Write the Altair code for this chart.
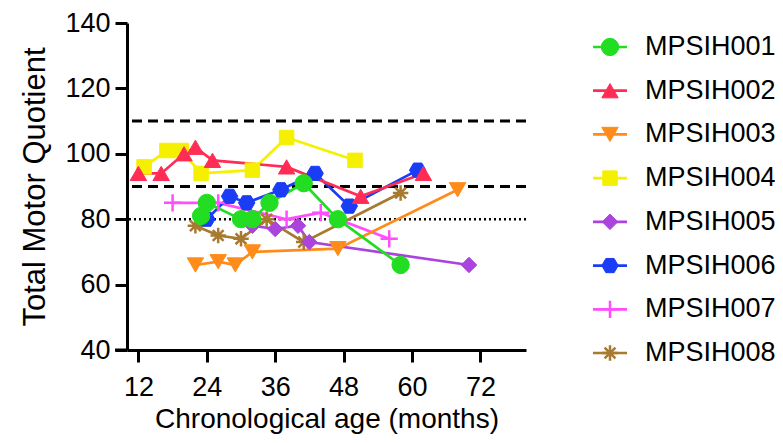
import altair as alt
import pandas as pd

# ---- data ----
names = ["MPSIH001", "MPSIH002", "MPSIH003", "MPSIH004",
         "MPSIH005", "MPSIH006", "MPSIH007", "MPSIH008"]

s001_age = [23, 24, 30, 32, 35, 41, 47, 58]
s001_tmq = [81, 85, 80, 80, 85, 91, 80, 66]
s002_age = [12, 16, 20, 22, 25, 38, 51, 62]
s002_tmq = [94, 94, 100, 102, 98, 96, 87, 94]
s003_age = [22, 26, 29, 32, 47, 68]
s003_tmq = [66, 67, 66, 70, 71, 89]
s004_age = [13, 17, 19.5, 23, 32, 38, 50]
s004_tmq = [96, 101, 101, 94, 95, 105, 98]
s005_age = [32, 36, 40, 42, 70]
s005_tmq = [78, 77, 78, 73, 66]
s006_age = [24, 28, 31, 37, 43, 49, 61]
s006_tmq = [80, 87, 85, 89, 94, 84, 95]
s007_age = [18, 26, 38, 44, 56]
s007_tmq = [85, 85, 80, 82, 74]
s008_age = [22, 26, 30, 34.5, 41, 58]
s008_tmq = [78, 75, 74, 80, 73, 88]

ref_dashed = [110, 90]
ref_dotted = [80]
x_ticks = [12, 24, 36, 48, 60, 72]
y_ticks = [40, 60, 80, 100, 120, 140]

# ---- styles ----
colors = ["#22DD22", "#FF2D55", "#FF8C1A", "#F5F000",
          "#AA44DD", "#1A3CF5", "#FF4DFF", "#A87A30"]
hexagon = "M-1,0L-0.5,-0.866L0.5,-0.866L1,0L0.5,0.866L-0.5,0.866Z"
plus = "M-1,0L1,0M0,-1L0,1"
asterisk = "M-1,0L1,0M0,-1L0,1M-0.7,-0.7L0.7,0.7M-0.7,0.7L0.7,-0.7"
shapes = ["circle", "triangle-up", "triangle-down", "square",
          "diamond", hexagon, plus, asterisk]
sizes = [300, 270, 270, 210, 240, 270, 300, 240]
stroke_widths = [1, 1, 1, 1, 1, 1, 2.5, 2.5]

ages_list = [s001_age, s002_age, s003_age, s004_age, s005_age, s006_age, s007_age, s008_age]
tmq_list = [s001_tmq, s002_tmq, s003_tmq, s004_tmq, s005_tmq, s006_tmq, s007_tmq, s008_tmq]

rows = []
for name, ages, vals in reversed(list(zip(names, ages_list, tmq_list))):
    for a, v in zip(ages, vals):
        rows.append({"series": name, "age": a, "tmq": v})
df = pd.DataFrame(rows)

FONT = "Liberation Sans"

color_scale = alt.Scale(domain=names, range=colors)
shape_scale = alt.Scale(domain=names, range=shapes)
size_scale = alt.Scale(type="ordinal", domain=names, range=sizes)
sw_scale = alt.Scale(type="ordinal", domain=names, range=stroke_widths)

x_scale = alt.Scale(domain=[10, 80], nice=False, zero=False)
y_scale = alt.Scale(domain=[40, 140], nice=False, zero=False)

x_axis = alt.Axis(values=x_ticks, title="Chronological age (months)",
                  labelPadding=12, titlePadding=5, titleFontSize=28)
y_axis = alt.Axis(values=y_ticks, title="Total Motor Quotient",
                  labelPadding=5, titlePadding=13, titleFontSize=31)

x_enc = alt.X("age:Q", scale=x_scale, axis=x_axis)
y_enc = alt.Y("tmq:Q", scale=y_scale, axis=y_axis)

base = alt.Chart(df)

lines = base.mark_line(strokeWidth=2.7).encode(
    x=x_enc, y=y_enc,
    color=alt.Color("series:N", scale=color_scale, legend=None),
    detail="series:N",
    order="age:Q",
)

marker_enc = dict(
    fill=alt.Fill("series:N", scale=color_scale, legend=None),
    stroke=alt.Stroke("series:N", scale=color_scale, legend=None),
    shape=alt.Shape("series:N", scale=shape_scale, legend=None),
    size=alt.Size("series:N", scale=size_scale, legend=None),
    strokeWidth=alt.StrokeWidth("series:N", scale=sw_scale, legend=None),
)

points = base.mark_point(filled=True, opacity=1).encode(x=x_enc, y=y_enc, **marker_enc)

dashed = alt.Chart(pd.DataFrame({"tmq": ref_dashed})).mark_rule(
    color="black", strokeWidth=3, strokeDash=[10, 6]
).encode(y=y_enc)

dotted = alt.Chart(pd.DataFrame({"tmq": ref_dotted})).mark_rule(
    color="black", strokeWidth=2.5, strokeDash=[2, 3]
).encode(y=y_enc)

x_ext = alt.Chart(pd.DataFrame({"tmq": ref_dotted})).mark_rule(
    color="black", strokeWidth=3
).encode(x=alt.value(-12), x2=alt.value(0), y=alt.value(327))

main = alt.layer(dashed, dotted, x_ext, lines, points)

# ---- legend built from the series names ----
leg_df = pd.DataFrame({"series": names})
leg_y = alt.Y("series:N", scale=alt.Scale(type="point", domain=names, range=[24, 330], padding=0),
              axis=None)
leg_rule = alt.Chart(leg_df).mark_rule(strokeWidth=2.7).encode(
    x=alt.value(466), x2=alt.value(500), y=leg_y,
    color=alt.Color("series:N", scale=color_scale, legend=None),
)
leg_pts = alt.Chart(leg_df).mark_point(filled=True, opacity=1).encode(
    x=alt.value(483), y=leg_y, **marker_enc
)
leg_text = alt.Chart(leg_df).mark_text(
    align="left", baseline="middle", fontSize=27, font=FONT, color="black"
).encode(x=alt.value(518), y=leg_y, text="series:N")

legend = alt.layer(leg_rule, leg_pts, leg_text)

chart = alt.layer(main, legend).resolve_scale(y="independent").properties(
    width=399, height=327,
    padding={"left": 119, "top": 15, "right": 249, "bottom": 85},
    autosize=alt.AutoSizeParams(type="none"),
).configure_view(stroke=None).configure_axis(
    grid=False,
    domainColor="black", domainWidth=3,
    tickColor="black", tickWidth=3, tickSize=12,
    labelFont=FONT, labelFontSize=27, labelColor="black",
    titleFont=FONT, titleFontWeight="normal", titleColor="black",
)

chart.save("out.html", embed_options={"renderer": "svg", "actions": False})
